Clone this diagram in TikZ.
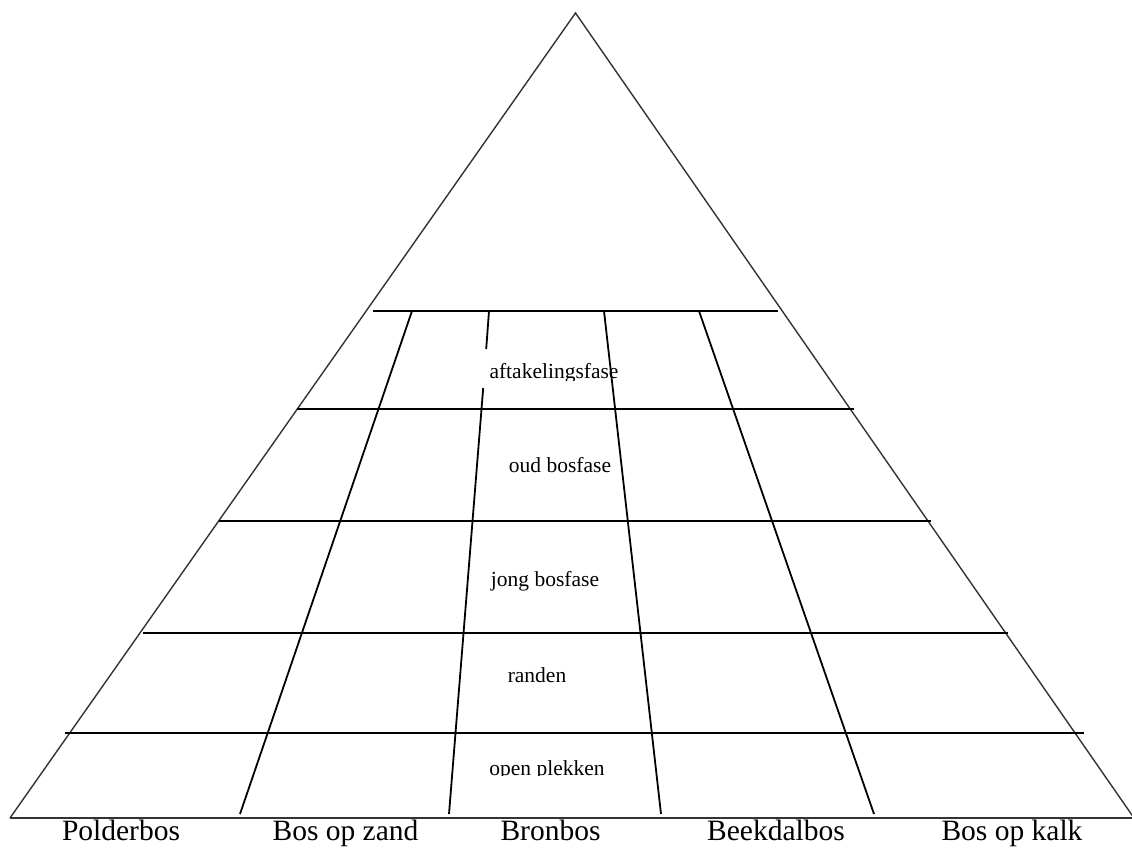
\documentclass[tikz,border=0pt]{standalone}
\usepackage{fontspec}
\setmainfont{Liberation Serif}
\begin{document}
\begin{tikzpicture}[x=1pt,y=-1pt,
  edge/.style={line width=1.4pt,draw=black!80},
  rule/.style={line width=1.8pt,draw=black},
  small/.style={inner sep=0pt,anchor=base,font=\fontsize{21.5}{24}\selectfont},
  big/.style={inner sep=0pt,anchor=base,font=\fontsize{29.5}{32}\selectfont}]
\useasboundingbox (0,0) rectangle (1132,850);
% triangle
\coordinate (apex) at (575.5,13);
\coordinate (bl) at (10,818);
\coordinate (br) at (1134,818);
\draw[edge,line join=miter] (bl) -- (apex) -- (br);
\draw[edge] (bl) -- (1132,818);
% horizontal rules
\coordinate (h1l) at (373,311);  \coordinate (h1r) at (778,311);
\coordinate (h2l) at (297,409);  \coordinate (h2r) at (854,409);
\coordinate (h3l) at (219,521);  \coordinate (h3r) at (931,521);
\coordinate (h4l) at (143,633);  \coordinate (h4r) at (1008,633);
\coordinate (h5l) at (65,733);   \coordinate (h5r) at (1084,733);
\foreach \i in {1,...,5}{\draw[rule] (h\i l) -- (h\i r);}
% dividing lines
\coordinate (v1t) at (412,311); \coordinate (v1b) at (240,814);
\coordinate (v2t) at (489,311); \coordinate (v2a) at (486.2,349);
\coordinate (v2c) at (483.2,388); \coordinate (v2b) at (449,814);
\coordinate (v3t) at (604,311); \coordinate (v3b) at (661,814);
\coordinate (v4t) at (699,311); \coordinate (v4b) at (874,814);
\draw[rule] (v1t) -- (v1b);
\draw[rule] (v2t) -- (v2a);
\draw[rule] (v2c) -- (v2b);
\draw[rule] (v3t) -- (v3b);
\draw[rule] (v4t) -- (v4b);
% phase labels (bottoms clipped as in the original)
\begin{scope}\clip (400,340) rectangle (700,380);
\node[small] (afta) at (554,378) {aftakelingsfase};\end{scope}
\node[small] (oud) at (560,472) {oud bosfase};
\node[small] (jong) at (545,586) {jong bosfase};
\node[small] (rand) at (537,682) {randen};
\begin{scope}\clip (400,740) rectangle (700,775.5);
\node[small] (open) at (547,775) {open plekken};\end{scope}
% forest types
\node[big] (polder) at (121,840) {Polderbos};
\node[big] (zand) at (345.5,840) {Bos op zand};
\node[big] (bron) at (550.5,840) {Bronbos};
\node[big] (beek) at (776,840) {Beekdalbos};
\node[big] (kalk) at (1012,840) {Bos op kalk};
\end{tikzpicture}
\end{document}
